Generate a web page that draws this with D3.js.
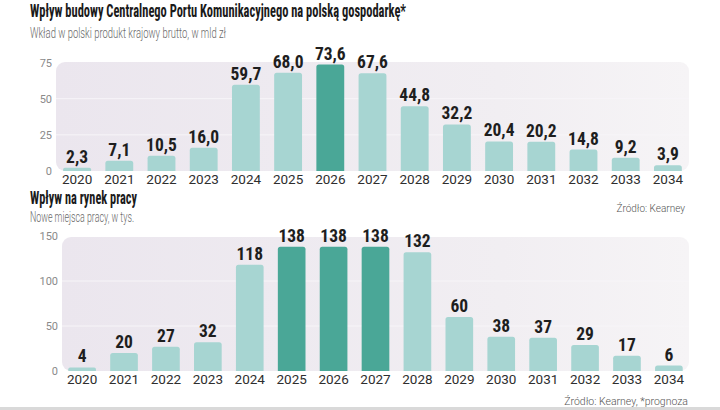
<!DOCTYPE html>
<html><head><meta charset="utf-8">
<script src="https://cdn.jsdelivr.net/npm/d3@7"></script>
<style>
html,body{margin:0;padding:0;background:#fff;}
svg{display:block;}
</style></head>
<body>
<svg id="chart" width="720" height="410"></svg>
<script>
const years = ["2020","2021","2022","2023","2024","2025","2026","2027","2028","2029","2030","2031","2032","2033","2034"];
const gdpValues = [2.3,7.1,10.5,16.0,59.7,68.0,73.6,67.6,44.8,32.2,20.4,20.2,14.8,9.2,3.9];
const gdpHighlight = ["2026"];
const gdpTicks = [0,25,50,75];
const jobsValues = [4,20,27,32,118,138,138,138,132,60,38,37,29,17,6];
const jobsHighlight = ["2025","2026","2027"];
const jobsTicks = [0,50,100,150];

const title1 = "Wpływ budowy Centralnego Portu Komunikacyjnego na polską gospodarkę*";
const subtitle1 = "Wkład w polski produkt krajowy brutto, w mld zł";
const title2 = "Wpływ na rynek pracy";
const subtitle2 = "Nowe miejsca pracy, w tys.";
const source1 = "Źródło: Kearney";
const source2 = "Źródło: Kearney, *prognoza";

const svg = d3.select("#chart");
const LIGHT = "#a7d5d2", DARK = "#4aa797";
const condensed = "'Liberation Sans Narrow','Roboto Condensed','Liberation Sans',Arial,sans-serif";
const sans = "Roboto,'Open Sans',sans-serif";

const defs = svg.append("defs");
const grad = defs.append("linearGradient").attr("id","panelGrad").attr("x1","0").attr("x2","1").attr("y1","0").attr("y2","0");
grad.append("stop").attr("offset","0%").attr("stop-color","#ebe6ee");
grad.append("stop").attr("offset","70%").attr("stop-color","#f1eef2");
grad.append("stop").attr("offset","100%").attr("stop-color","#f6f4f6");

function heading(text, x, y, width, size){
  svg.append("text").attr("x",x).attr("y",y)
    .attr("font-family",condensed).attr("font-weight","bold").attr("font-size",size)
    .attr("fill","#1a1a1a").attr("textLength",width).attr("lengthAdjust","spacingAndGlyphs")
    .text(text);
}
function sub(text, x, y, width){
  svg.append("text").attr("x",x).attr("y",y)
    .attr("font-family",sans).attr("font-weight",300).attr("font-size",14.5)
    .attr("fill","#6a6a6a").attr("textLength",width).attr("lengthAdjust","spacingAndGlyphs")
    .text(text);
}

function drawChart(cfg){
  const {values, highlight, ticks, xRange, yRange, pad, panel, tickX} = cfg;
  const x = d3.scaleBand().domain(years).range(xRange).paddingInner(0.34).paddingOuter(pad);
  const y = d3.scaleLinear().domain([0, ticks[ticks.length-1]]).range(yRange);
  const g = svg.append("g");
  g.append("rect").attr("x",panel[0]).attr("y",panel[1]).attr("width",panel[2]-panel[0])
    .attr("height",panel[3]-panel[1]).attr("rx",9).attr("fill","url(#panelGrad)");
  g.selectAll(".grid").data(ticks.slice(1,-1)).join("line")
    .attr("x1",panel[0]).attr("x2",panel[2]).attr("y1",d=>y(d)).attr("y2",d=>y(d))
    .attr("stroke","#f7f5f8").attr("stroke-width",1);
  const ya = d3.axisLeft(y).tickValues(ticks).tickSize(0).tickPadding(0);
  const yg = g.append("g").attr("transform",`translate(${tickX},0)`).call(ya);
  yg.select(".domain").remove();
  yg.selectAll("text").attr("font-family",sans).attr("font-size",11).attr("fill","#8a8a8a");
  const data = years.map((yr,i)=>({yr, v: values[i]}));
  g.selectAll(".bar").data(data).join("path")
    .attr("fill", d=> highlight.includes(d.yr) ? DARK : LIGHT)
    .attr("d", d=>{
      const x0 = x(d.yr), w = x.bandwidth(), top = y(d.v), bot = y(0);
      const r = Math.min(2.5, (bot-top)/2);
      return `M${x0},${bot}V${top+r}Q${x0},${top} ${x0+r},${top}H${x0+w-r}Q${x0+w},${top} ${x0+w},${top+r}V${bot}Z`;
    });
  g.selectAll(".val").data(data).join("text")
    .attr("x", d=>x(d.yr)+x.bandwidth()/2).attr("y", d=>y(d.v)-5)
    .attr("text-anchor","middle").attr("font-family",condensed).attr("font-weight","bold")
    .attr("font-size",17.5).attr("fill","#1e1e1e")
    .text(d=> cfg.fmt(d.v));
  const xa = d3.axisBottom(x).tickSize(0).tickPadding(0);
  const xg = g.append("g").attr("transform",`translate(0,${y(0)+3.5})`).call(xa);
  xg.select(".domain").remove();
  xg.selectAll("text").attr("font-family",sans).attr("font-size",13.5).attr("fill","#2e2e2e")
    .attr("dy","0.71em");
}

heading(title1, 30, 17, 376, 19);
sub(subtitle1, 30, 38, 196);
drawChart({values:gdpValues, highlight:gdpHighlight, ticks:gdpTicks,
  xRange:[56,689], pad:0.17, yRange:[171,62.5], panel:[56,62,689,171], tickX:52,
  fmt: v=> d3.format(".1f")(v).replace(".",",")});

svg.append("text").attr("x",685).attr("y",212).attr("text-anchor","end")
  .attr("font-family",sans).attr("font-weight",300).attr("font-size",10).attr("fill","#555").text(source1);

heading(title2, 30, 204, 107, 17.5);
sub(subtitle2, 30, 222, 104);
drawChart({values:jobsValues, highlight:jobsHighlight, ticks:jobsTicks,
  xRange:[62,689], pad:0.15, yRange:[371,236], panel:[62,237,689,371], tickX:58,
  fmt: v=> String(v)});

svg.append("text").attr("x",688).attr("y",405).attr("text-anchor","end")
  .attr("font-family",sans).attr("font-weight",300).attr("font-size",10.5).attr("fill","#555").text(source2);

svg.append("rect").attr("x",0).attr("y",407).attr("width",720).attr("height",3).attr("fill","#d9d9d9");
</script>
</body></html>
